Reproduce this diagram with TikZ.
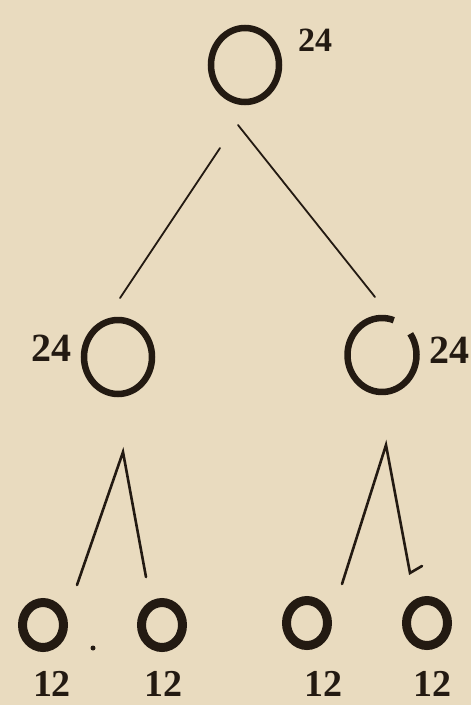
\documentclass[tikz,border=0pt]{standalone}
\usepackage{fontspec}
\setmainfont{Liberation Serif}
\usetikzlibrary{shapes.geometric}
\definecolor{paper}{RGB}{233,219,191}
\definecolor{ink}{RGB}{35,26,18}
\tikzset{
  ring/.style={ellipse, draw=ink, line width=6.5pt, inner sep=0pt},
  bigring/.style={ring, minimum width=68pt, minimum height=74pt},
  smallring/.style={ring, line width=9pt, minimum width=41pt, minimum height=45pt},
  num/.style={text=ink, inner sep=0pt, font=\bfseries\fontsize{38}{38}\selectfont},
  stem/.style={draw=ink, line width=2.6pt, line cap=round}
}

\begin{document}
\begin{tikzpicture}[x=1pt,y=1pt]
  \fill[paper] (0,0) rectangle (471,-705);
  \useasboundingbox (0,0) rectangle (471,-705);
  % rings
  \node[bigring] (top) at (245,-65) {};
  \node[bigring] (midl) at (118,-357) {};
  \node[bigring, draw=none] (midr) at (382,-355) {};
  \draw[ink, line width=6.5pt] ([shift={(70:34.5 and 37)}]midr.center)
    arc[start angle=70, end angle=395, x radius=34.5, y radius=37];
  \node[smallring] (b1) at (43,-625) {};
  \node[smallring] (b2) at (162,-625) {};
  \node[smallring] (b3) at (307,-623) {};
  \node[smallring] (b4) at (427,-623) {};
  \fill[ink] (93,-648) circle (2.5);
  % numbers
  \node[num, font=\bfseries\fontsize{34}{34}\selectfont] (ntop) at (315,-40) {24};
  \node[num, font=\bfseries\fontsize{40}{40}\selectfont] (nmidl) at (51,-348) {24};
  \node[num, anchor=west, font=\bfseries\fontsize{40}{40}\selectfont] (nmidr) at (429,-350) {24};
  \node[num] (n1) at (52,-684) {12};
  \node[num] (n2) at (163,-684) {12};
  \node[num] (n3) at (323,-684) {12};
  \node[num] (n4) at (432,-684) {12};
  % stems
  \coordinate (tl) at (220,-148);
  \coordinate (tle) at (120,-298);
  \coordinate (tr) at (238,-125);
  \coordinate (tre) at (375,-297);
  \coordinate (la) at (123,-452);
  \coordinate (la1) at (77,-585);
  \coordinate (la2) at (146,-577);
  \coordinate (ra) at (386,-445);
  \coordinate (ra1) at (342,-584);
  \coordinate (ra2) at (410,-573);
  \coordinate (rh) at (422,-566);
  \draw[stem, line width=1.8pt] (tl) -- (tle);
  \draw[stem, line width=1.8pt] (tr) -- (tre);
  \draw[stem] (la1) -- (la) -- (la2);
  \draw[stem] (ra1) -- (ra) -- (ra2) -- (rh);
\end{tikzpicture}
\end{document}
